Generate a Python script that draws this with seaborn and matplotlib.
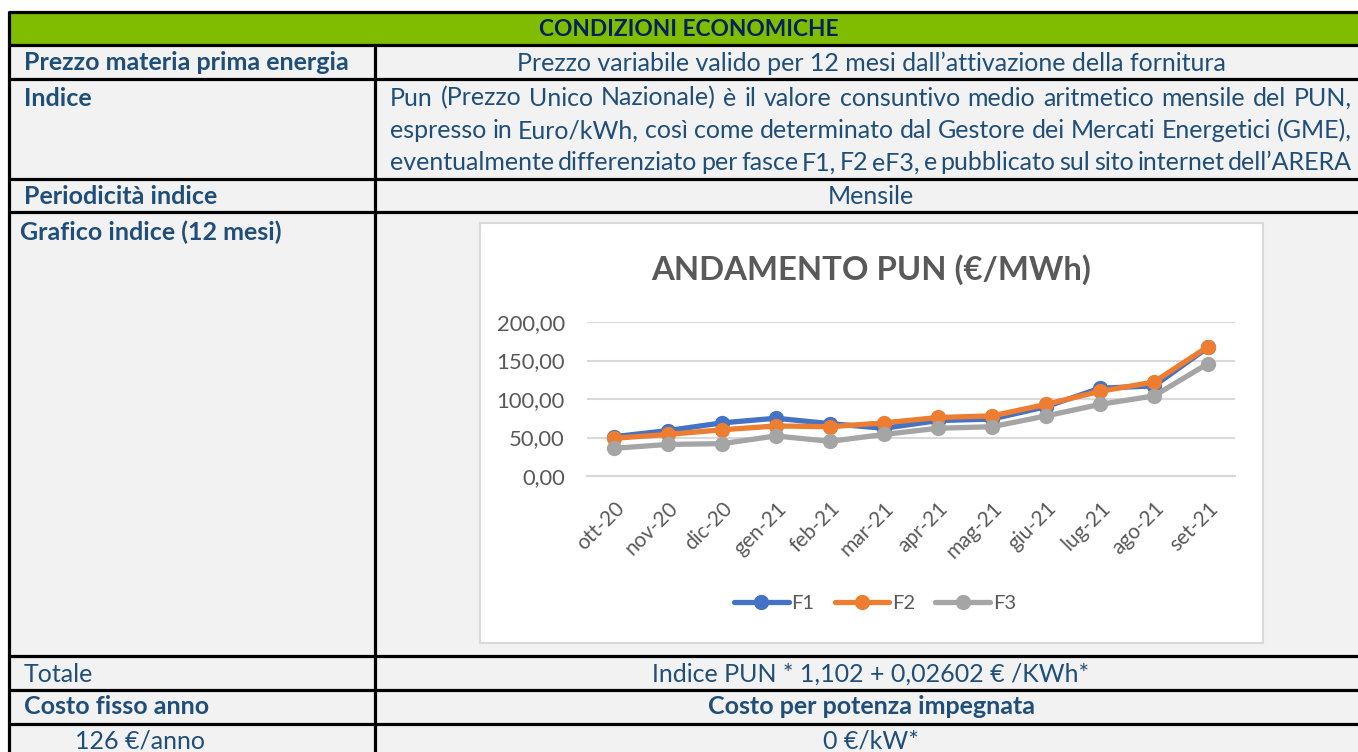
import numpy as np
import pandas as pd
import seaborn as sns
import matplotlib.pyplot as plt
from matplotlib.lines import Line2D
from matplotlib.patches import Rectangle

# Data
mesi = ['ott-20', 'nov-20', 'dic-20', 'gen-21', 'feb-21', 'mar-21',
        'apr-21', 'mag-21', 'giu-21', 'lug-21', 'ago-21', 'set-21']
f1 = [51, 59, 69, 75, 68, 62, 72, 74, 90, 114, 117, 167]
f2 = [49, 54, 60, 65, 64, 69, 76, 78, 93, 110, 122, 168]
f3 = [36, 41, 42, 52, 45, 54, 62, 64, 78, 93, 104, 146]
fasce = ['F1', 'F2', 'F3']
yticks = [0, 50, 100, 150, 200]

# Table texts
titolo_tab = 'CONDIZIONI ECONOMICHE'
indice_righe = [
    'Pun (Prezzo Unico Nazionale) è il valore consuntivo medio aritmetico mensile del PUN,',
    'espresso in Euro/kWh, così come determinato dal Gestore dei Mercati Energetici (GME),',
    'eventualmente differenziato per fasce F1, F2 eF3, e pubblicato sul sito internet dell\u2019ARERA',
]

df = pd.DataFrame({'mese': mesi * 3,
                   'valore': f1 + f2 + f3,
                   'fascia': np.repeat(fasce, len(mesi))})

# Styles
W, H = 1358, 752
txtCol = '#1F4E79'
hdrCol = '#002060'
cellBg = '#F2F2F2'
green = '#80BC00'
pal = {'F1': '#4472C4', 'F2': '#ED7D31', 'F3': '#A5A5A5'}
chartTxt = '#595959'
gridCol = '#D9D9D9'
fnt = 'Lato'
fs = 18
lineW = 3.8
mSize = 11

sns.set_style('white')
plt.rcParams['font.family'] = [fnt, 'DejaVu Sans']

fig = plt.figure(figsize=(W / 100, H / 100), dpi=100)
bg = fig.add_axes([0, 0, 1, 1])
bg.set_xlim(0, W)
bg.set_ylim(H, 0)
bg.axis('off')

# cells
bg.add_patch(Rectangle((9, 12), W, H, facecolor=cellBg, edgecolor='none'))
bg.add_patch(Rectangle((9, 12), W, 33, facecolor=green, edgecolor='none'))
lw = 2.3
for y in [12, 45, 79, 179, 212, 656, 690, 724]:
    bg.plot([9, W], [y, y], color='black', lw=lw, solid_capstyle='butt')
bg.plot([9, 9], [12, H], color='black', lw=lw)
bg.plot([375, 375], [45, H], color='black', lw=lw)

cx = 871
bg.text(689, 29, titolo_tab, ha='center', va='center', fontsize=16.3, fontweight='bold', color=hdrCol)
bg.text(24, 63, 'Prezzo materia prima energia', ha='left', va='center', fontsize=fs, fontweight='bold', color=txtCol)
bg.text(cx, 63, 'Prezzo variabile valido per 12 mesi dall\u2019attivazione della fornitura',
        ha='center', va='center', fontsize=fs, color=txtCol)
bg.text(24, 98, 'Indice', ha='left', va='center', fontsize=fs, fontweight='bold', color=txtCol)
bg.text(24, 196, 'Periodicità indice', ha='left', va='center', fontsize=fs, fontweight='bold', color=txtCol)
bg.text(cx, 196, 'Mensile', ha='center', va='center', fontsize=fs, color=txtCol)
bg.text(20, 232, 'Grafico indice (12 mesi)', ha='left', va='center', fontsize=fs, fontweight='bold', color=txtCol)
bg.text(24, 674, 'Totale', ha='left', va='center', fontsize=fs, color=txtCol)
bg.text(cx, 674, 'Indice PUN * 1,102 + 0,02602 € /KWh*', ha='center', va='center', fontsize=fs, color=txtCol)
bg.text(24, 707, 'Costo fisso anno', ha='left', va='center', fontsize=fs, fontweight='bold', color=txtCol)
bg.text(cx, 707, 'Costo per potenza impegnata', ha='center', va='center', fontsize=fs, fontweight='bold', color=txtCol)
bg.text(75, 741, '126 €/anno', ha='left', va='center', fontsize=fs, color=txtCol)
bg.text(cx, 741, '0 €/kW*', ha='center', va='center', fontsize=fs, color=txtCol)

# justified paragraph
renderer = fig.canvas.get_renderer()
for riga, y in zip(indice_righe, [98, 131, 163]):
    words = riga.split(' ')
    tt = [bg.text(0, y, w, ha='left', va='center', fontsize=fs, color=txtCol) for w in words]
    widths = [t.get_window_extent(renderer).width for t in tt]
    gap = (1352 - 390 - sum(widths)) / (len(words) - 1)
    x = 390
    for t, w in zip(tt, widths):
        t.set_x(x)
        x += w + gap

# chart box
bg.add_patch(Rectangle((480, 223), 783, 420, facecolor='white', edgecolor=gridCol, lw=1.5))
bg.text(871, 270, 'ANDAMENTO PUN (€/MWh)', ha='center', va='center', fontsize=23.7,
        fontweight='bold', color=chartTxt)

# line chart
ax = fig.add_axes([587 / W, 1 - 476 / H, 648 / W, 154 / H])
ax.patch.set_alpha(0)
sns.lineplot(data=df, x='mese', y='valore', hue='fascia', palette=pal, marker='o',
             markersize=mSize, markeredgewidth=0, linewidth=lineW, sort=False, ax=ax, legend=False)
ax.set_xlim(-0.5, len(mesi) - 0.5)
ax.set_ylim(0, 200)
ax.set_yticks(yticks)
ax.set_yticklabels([f'{v:.2f}'.replace('.', ',') for v in yticks])
ax.yaxis.grid(True, color=gridCol, lw=1.5)
ax.set_axisbelow(True)
for s in ['top', 'right', 'left']:
    ax.spines[s].set_visible(False)
ax.spines['bottom'].set_color(gridCol)
ax.spines['bottom'].set_linewidth(1.5)
ax.set_xticks(range(len(mesi)))
ax.set_xticklabels(mesi, rotation=45, ha='right', va='top', rotation_mode='anchor')
ax.set_xticks(np.arange(-0.5, len(mesi)), minor=True)
ax.tick_params(axis='x', which='major', length=0, pad=16, labelsize=15, labelcolor=chartTxt)
ax.tick_params(axis='x', which='minor', length=6, width=1.5, color=gridCol, direction='out')
ax.tick_params(axis='y', length=0, pad=16, labelsize=15.8, labelcolor=chartTxt)
ax.set_xlabel('')
ax.set_ylabel('')

handles = [Line2D([], [], color=pal[f], lw=lineW, marker='o', markersize=mSize, markeredgewidth=0) for f in fasce]
fig.legend(handles, fasce, loc='center', bbox_to_anchor=(875 / W, 1 - 603 / H), ncol=3,
           frameon=False, fontsize=14.5, labelcolor=chartTxt, handlelength=2.7,
           handletextpad=0.15, columnspacing=1.0)

fig.savefig('out.png', dpi=100)
